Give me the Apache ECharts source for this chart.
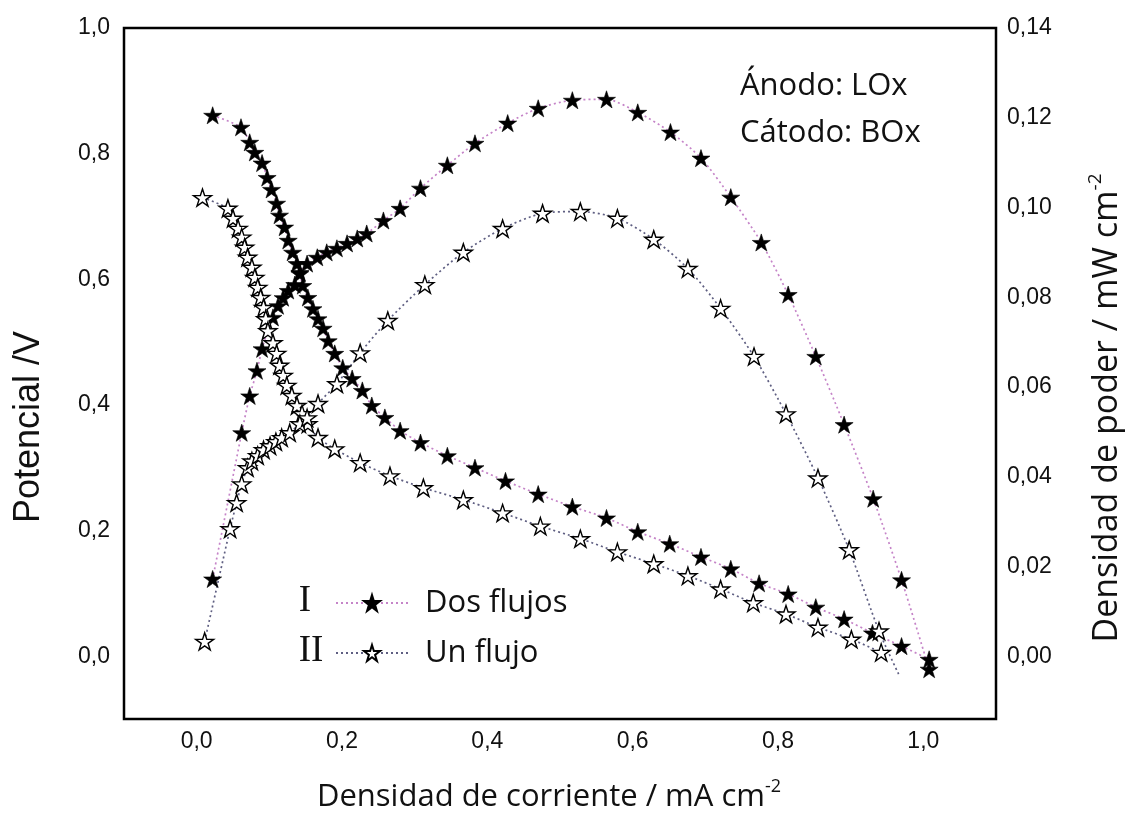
<!DOCTYPE html>
<html>
<head>
<meta charset="utf-8">
<script src="https://cdn.jsdelivr.net/npm/echarts@6/dist/echarts.min.js"></script>
<style>
  html, body { margin: 0; padding: 0; background: #fff; }
  #chart { width: 1130px; height: 819px; }
</style>
</head>
<body>
<div id="chart"></div>
<script>
// Current density (mA cm-2) and potential (V), two-flow cell
const dosFlujosJ = [0.022,0.061,0.073,0.080,0.090,0.097,0.103,0.110,0.114,0.121,0.126,0.132,0.138,0.142,0.146,0.153,0.160,0.167,0.174,0.181,0.190,0.201,0.214,0.228,0.241,0.259,0.280,0.308,0.345,0.383,0.425,0.470,0.517,0.564,0.607,0.651,0.694,0.735,0.774,0.814,0.852,0.891,0.930,0.970,1.008];
const dosFlujosV = [0.861,0.842,0.818,0.802,0.785,0.762,0.743,0.721,0.702,0.683,0.662,0.643,0.625,0.609,0.590,0.571,0.553,0.537,0.522,0.502,0.482,0.459,0.442,0.423,0.399,0.380,0.359,0.340,0.319,0.300,0.279,0.258,0.238,0.220,0.198,0.179,0.158,0.139,0.116,0.099,0.078,0.059,0.037,0.016,-0.005];

// Power density (mW cm-2), two-flow cell
const dosFlujosJP = [0.022,0.062,0.073,0.083,0.090,0.098,0.105,0.112,0.119,0.126,0.135,0.142,0.152,0.166,0.179,0.193,0.207,0.221,0.234,0.257,0.280,0.308,0.345,0.383,0.428,0.470,0.517,0.564,0.607,0.652,0.694,0.735,0.777,0.814,0.852,0.891,0.931,0.970,1.008];
const dosFlujosP = [0.0172,0.0498,0.0580,0.0636,0.0685,0.0726,0.0755,0.0781,0.0799,0.0815,0.0828,0.0855,0.0875,0.0889,0.0900,0.0909,0.0920,0.0931,0.0942,0.0971,0.0998,0.1043,0.1094,0.1143,0.1188,0.1221,0.1239,0.1241,0.1212,0.1168,0.1110,0.1023,0.0922,0.0806,0.0668,0.0516,0.0351,0.0170,-0.0029];

// Current density and potential, single-flow cell
const unFlujoJ = [0.008,0.043,0.050,0.057,0.062,0.066,0.070,0.076,0.080,0.084,0.088,0.092,0.095,0.098,0.105,0.110,0.114,0.119,0.124,0.131,0.138,0.145,0.153,0.167,0.190,0.225,0.266,0.312,0.367,0.421,0.473,0.528,0.579,0.629,0.676,0.721,0.766,0.811,0.855,0.901,0.942];
const unFlujoV = [0.730,0.713,0.697,0.681,0.667,0.651,0.635,0.619,0.603,0.587,0.571,0.555,0.537,0.518,0.499,0.482,0.463,0.447,0.431,0.415,0.399,0.386,0.370,0.348,0.330,0.308,0.287,0.268,0.249,0.228,0.207,0.187,0.166,0.147,0.128,0.107,0.085,0.067,0.046,0.027,0.006];

// Power density, single-flow cell (last point is the end of the trace, no marker)
const unFlujoJP = [0.011,0.046,0.055,0.062,0.070,0.076,0.084,0.092,0.101,0.109,0.117,0.128,0.142,0.152,0.167,0.193,0.225,0.263,0.314,0.367,0.421,0.476,0.528,0.579,0.629,0.676,0.721,0.767,0.811,0.855,0.898,0.939,0.966];
const unFlujoP = [0.0033,0.0284,0.0342,0.0384,0.0420,0.0435,0.0447,0.0460,0.0469,0.0478,0.0487,0.0498,0.0518,0.0531,0.0563,0.0607,0.0676,0.0748,0.0828,0.0900,0.0953,0.0987,0.0991,0.0976,0.0929,0.0864,0.0775,0.0668,0.0540,0.0397,0.0237,0.0056,-0.0040];

// Tick labels
const xTicks = [0, 0.2, 0.4, 0.6, 0.8, 1.0];
const yLeftTicks = [0, 0.2, 0.4, 0.6, 0.8, 1.0];
const yRightTicks = [0, 0.02, 0.04, 0.06, 0.08, 0.10, 0.12, 0.14];

const names = { dos: 'Dos flujos', un: 'Un flujo' };

const STAR = 'path://M50 0 L61.2 34.5 L97.6 34.5 L68.2 55.9 L79.4 90.5 L50 69.1 L20.6 90.5 L31.8 55.9 L2.4 34.5 L38.8 34.5 Z';
const pink = '#c584c8';
const slate = '#5f5f82';

function pairs(xs, ys) { return xs.map((x, i) => [x, ys[i]]); }
const comma = (d) => (v) => v.toFixed(d).replace('.', ',');

const tickFont = { fontFamily: 'Liberation Sans', fontSize: 23, color: '#111' };
const titleFont = 'Open Sans';

function lineSeries(name, data, yIdx, filled, color) {
  return {
    name, type: 'line', yAxisIndex: yIdx, data,
    smooth: 0.25,
    symbol: STAR, symbolSize: 18, symbolKeepAspect: true,
    lineStyle: { color, width: 1.7, type: [2, 3] },
    itemStyle: filled
      ? { color: '#000', borderColor: '#000', borderWidth: 0.6 }
      : { color: '#fff', borderColor: '#000', borderWidth: 1.4 },
    emphasis: { disabled: true },
    animation: false
  };
}

const unPowerData = pairs(unFlujoJP, unFlujoP).map((p, i, arr) =>
  i === arr.length - 1 ? { value: p, symbol: 'none' } : p);

function supTitle(text, size, supSize) {
  return {
    text: '{m|' + text + '}{s|-2}',
    align: 'center', verticalAlign: 'middle', fill: '#111',
    rich: {
      m: { fontFamily: titleFont, fontSize: size, lineHeight: size + 8, fill: '#111' },
      s: { fontFamily: titleFont, fontSize: supSize, verticalAlign: 'top', lineHeight: supSize + 2, fill: '#111' }
    }
  };
}

const chart = echarts.init(document.getElementById('chart'), null, { renderer: 'canvas' });
chart.setOption({
  backgroundColor: '#fff',
  animation: false,
  grid: { left: 124, right: 134, top: 28, bottom: 100, show: true, borderColor: '#000', borderWidth: 2.5 },
  xAxis: {
    type: 'value', min: -0.1, max: 1.1,
    axisLine: { show: false }, axisTick: { show: false }, splitLine: { show: false },
    axisLabel: { ...tickFont, margin: 11, customValues: xTicks, formatter: comma(1) }
  },
  yAxis: [
    {
      type: 'value', min: -0.1, max: 1.0, position: 'left',
      axisLine: { show: false }, axisTick: { show: false }, splitLine: { show: false },
      axisLabel: { ...tickFont, margin: 14, customValues: yLeftTicks, formatter: comma(1) }
    },
    {
      type: 'value', min: -0.014, max: 0.14, position: 'right',
      axisLine: { show: false }, axisTick: { show: false }, splitLine: { show: false },
      axisLabel: { ...tickFont, margin: 11, customValues: yRightTicks, formatter: comma(2) }
    }
  ],
  legend: {
    data: [names.dos, names.un],
    orient: 'vertical', left: 330, top: 581,
    itemWidth: 72, itemHeight: 20, itemGap: 16,
    selectedMode: false,
    textStyle: { fontFamily: titleFont, fontSize: 31, color: '#111', lineHeight: 34, padding: [0, 0, 0, 12] }
  },
  graphic: [
    { type: 'text', left: 740, top: 71, style: { text: 'Ánodo: LOx', fontFamily: titleFont, fontSize: 31, fill: '#111' } },
    { type: 'text', left: 740, top: 118, style: { text: 'Cátodo: BOx', fontFamily: titleFont, fontSize: 31, fill: '#111' } },
    { type: 'text', x: 305, y: 601, style: { text: 'I', fontFamily: 'Liberation Serif', fontSize: 37, fill: '#111', align: 'center', verticalAlign: 'middle' } },
    { type: 'text', x: 311, y: 651, style: { text: 'II', fontFamily: 'Liberation Serif', fontSize: 37, fill: '#111', align: 'center', verticalAlign: 'middle' } },
    { type: 'text', x: 549, y: 797, style: supTitle('Densidad de corriente / mA cm', 31, 18) },
    {
      type: 'text', x: 29, y: 427, rotation: Math.PI / 2,
      style: { text: 'Potencial /V', fontFamily: 'Liberation Sans', fontSize: 36, fill: '#111', align: 'center', verticalAlign: 'middle' }
    },
    { type: 'text', x: 1107, y: 408, rotation: Math.PI / 2, style: supTitle('Densidad de poder / mW cm', 34, 19) }
  ],
  series: [
    lineSeries(names.dos, pairs(dosFlujosJ, dosFlujosV), 0, true, pink),
    lineSeries(names.dos, pairs(dosFlujosJP, dosFlujosP), 1, true, pink),
    lineSeries(names.un, pairs(unFlujoJ, unFlujoV), 0, false, slate),
    lineSeries(names.un, unPowerData, 1, false, slate)
  ]
});
</script>
</body>
</html>
